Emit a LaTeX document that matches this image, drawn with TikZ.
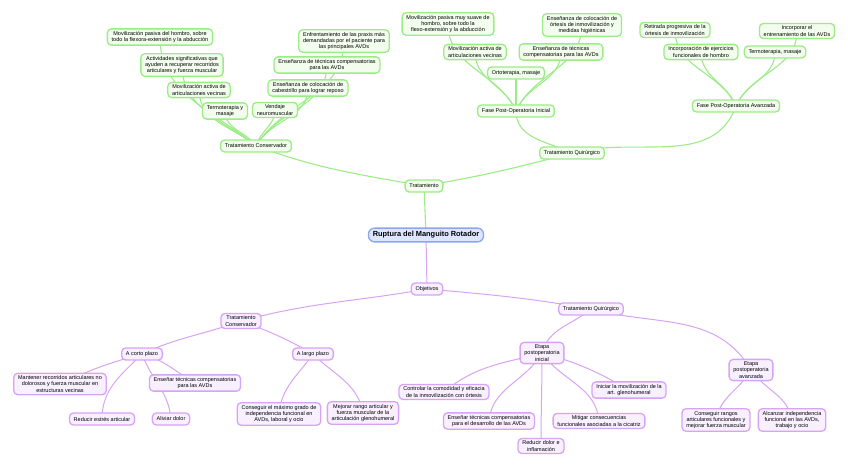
\documentclass[tikz,border=0pt]{standalone}
\usepackage{fontspec}
\setmainfont{Liberation Sans}
\usetikzlibrary{arrows.meta,calc}
\pgfdeclarelayer{links}
\pgfsetlayers{links,main}
\definecolor{gline}{HTML}{9BEC86}
\definecolor{gfill}{HTML}{F2FDEE}
\definecolor{pline}{HTML}{D7A3F5}
\definecolor{pfill}{HTML}{F8EFFF}
\definecolor{bline}{HTML}{8DA5EF}
\definecolor{bfill}{HTML}{DDE5FF}
\tikzset{
  every node/.style={font=\fontsize{5.5}{6.3}\selectfont, text=black},
  topic/.style={draw, rounded corners=4pt, line width=1.3pt, align=center,
                minimum height=12pt, inner xsep=4.3pt, inner ysep=2.4pt},
  gnode/.style={topic, draw=gline, fill=gfill},
  pnode/.style={topic, draw=pline, fill=pfill},
  rootnode/.style={topic, draw=bline, fill=bfill, rounded corners=6pt,
                   font=\fontsize{7.4}{8.5}\selectfont\bfseries, inner ysep=3.4pt},
  glink/.style={draw=gline, line width=1.1pt},
  plink/.style={draw=pline, line width=1pt},
}

\begin{document}
\begin{tikzpicture}[x=1pt, y=1pt]
  \useasboundingbox (0,0) rectangle (848,-468);

  % centre
  \node[rootnode] (ruptura) at (426,-235) {Ruptura del Manguito Rotador};

  % tratamiento (upper branch)
  \node[gnode] (trat)  at (424,-186) {Tratamiento};
  \node[gnode] (gcons) at (256,-146) {Tratamiento Conservador};
  \node[gnode] (gquir) at (572,-153) {Tratamiento Quirúrgico};
  \node[gnode] (fini)  at (516,-111) {Fase Post-Operatoria Inicial};
  \node[gnode] (favz)  at (736,-106) {Fase Post-Operatoria Avanzada};

  \node[gnode] (cpas)  at (160,-37) {Movilización pasiva del hombro, sobre\\todo la flexora-extensión y la abducción};
  \node[gnode] (cact)  at (182,-65) {Actividades significativas que\\ayuden a recuperar recorridos\\articulares y fuerza muscular};
  \node[gnode] (cmov)  at (199,-90) {Movilización activa de\\articulaciones vecinas};
  \node[gnode] (cterm) at (225,-111) {Termoterapia y\\masaje};
  \node[gnode] (cvend) at (275,-110) {Vendaje\\neuromuscular};
  \node[gnode] (ccab)  at (308,-88) {Enseñanza de colocación de\\cabestrillo para lograr reposo};
  \node[gnode] (ctec)  at (327,-65) {Enseñanza de técnicas compensatorias\\para las AVDs};
  \node[gnode] (cpra)  at (344,-41) {Enfrentamiento de las praxis más\\demandadas por el paciente para\\las principales AVDs};

  \node[gnode] (ipas) at (448,-24) {Movilización pasiva muy suave de\\hombro, sobre todo la\\flexo-extensión y la abducción};
  \node[gnode] (iact) at (475,-52) {Movilización activa de\\articulaciones vecinas};
  \node[gnode] (iort) at (516,-73) {Ortoterapia, masaje};
  \node[gnode] (itec) at (561,-52) {Enseñanza de técnicas\\compensatorias para las AVDs};
  \node[gnode] (icol) at (582,-25) {Enseñanza de colocación de\\órtesis de inmovilización y\\medidas higiénicas};

  \node[gnode] (aret)  at (675,-30) {Retirada progresiva de la\\órtesis de inmovilización};
  \node[gnode] (ainc)  at (701,-52) {Incorporación de ejercicios\\funcionales de hombro};
  \node[gnode] (aavd)  at (797,-31) {Incorporar el\\entrenamiento de las AVDs};
  \node[gnode] (aterm) at (775,-52) {Termoterapia, masaje};

  % objetivos (lower branch)
  \node[pnode] (objet)  at (427,-289) {Objetivos};
  \node[pnode] (ptcons) at (241,-321) {Tratamiento\\Conservador};
  \node[pnode] (ptquir) at (591,-309) {Tratamiento Quirúrgico};
  \node[pnode] (corto)  at (142,-354) {A corto plazo};
  \node[pnode] (largo)  at (313,-354) {A largo plazo};
  \node[pnode] (mant)   at (60,-384) {Mantener recorridos articulares no\\dolorosos y fuerza muscular en\\estructuras vecinas};
  \node[pnode] (ensA)   at (195,-383) {Enseñar técnicas compensatorias\\para las AVDs};
  \node[pnode] (redu)   at (102,-419) {Reducir estrés articular};
  \node[pnode] (aliv)   at (171,-419) {Aliviar dolor};
  \node[pnode] (cons)   at (279,-414) {Conseguir el máximo grado de\\independencia funcional en\\AVDs, laboral y ocio};
  \node[pnode] (mejo)   at (363,-413) {Mejorar rango articular y\\fuerza muscular de la\\articulación glenohumeral};
  \node[pnode] (einic)  at (542,-353) {Etapa\\postoperatoria\\inicial};
  \node[pnode] (eavz)   at (751,-370) {Etapa\\postoperatoria\\avanzada};
  \node[pnode] (ctrl)   at (444,-392) {Controlar la comodidad y eficacia\\de la inmovilización con órtesis};
  \node[pnode] (ensB)   at (489,-421) {Enseñar técnicas compensatorias\\para el desarrollo de las AVDs};
  \node[pnode] (rdol)   at (541,-446) {Reducir dolor e\\inflamación};
  \node[pnode] (miti)   at (599,-421) {Mitigar consecuencias\\funcionales asociadas a la cicatriz};
  \node[pnode] (inic)   at (629,-390) {Iniciar la movilización de la\\art. glenohumeral};
  \node[pnode] (crang)  at (716,-420) {Conseguir rangos\\articulares funcionales y\\mejorar fuerza muscular};
  \node[pnode] (alca)   at (792,-420) {Alcanzar independencia\\funcional en las AVDs,\\trabajo y ocio};

  \begin{pgfonlayer}{links}
    \draw[glink] (ruptura.center) -- (trat.center);
    \draw[plink] (ruptura.center) -- (objet.center);

    \draw[glink] (trat.center) to[out=170, in=-20] (gcons.center);
    \draw[glink] (trat.center) to[out=10, in=-165] (gquir.center);
    \draw[glink] (gquir.center) to[out=155, in=-90] (fini.center);
    \draw[glink] (gquir.center) to[out=15, in=-110] (favz.center);

    \foreach \c/\o in {cpas/140, cact/142, cmov/140, cterm/125, cvend/75, ccab/62, ctec/60, cpra/58}
      \draw[glink] (gcons.center) to[out=\o, in=-90] (\c.center);
    \foreach \c/\o in {ipas/115, iact/112, iort/90, itec/68, icol/65}
      \draw[glink] (fini.center) to[out=\o, in=-90] (\c.center);
    \foreach \c/\o in {aret/115, ainc/112, aavd/65, aterm/68}
      \draw[glink] (favz.center) to[out=\o, in=-90] (\c.center);

    \foreach \p/\c/\o/\i in {objet/ptcons/190/15, objet/ptquir/-5/170,
        ptcons/corto/200/25, ptcons/largo/-20/150,
        corto/mant/195/25, corto/redu/-135/90, corto/ensA/-15/150, corto/aliv/-70/95,
        largo/cons/-125/85, largo/mejo/-45/100,
        ptquir/einic/-140/75, ptquir/eavz/-15/120,
        einic/ctrl/195/40, einic/ensB/-120/85, einic/rdol/-90/90,
        einic/miti/-55/95, einic/inic/-15/150,
        eavz/crang/-120/80, eavz/alca/-55/100}
      \draw[plink] (\p.center) to[out=\o, in=\i] (\c.center);
  \end{pgfonlayer}
\end{tikzpicture}
\end{document}
